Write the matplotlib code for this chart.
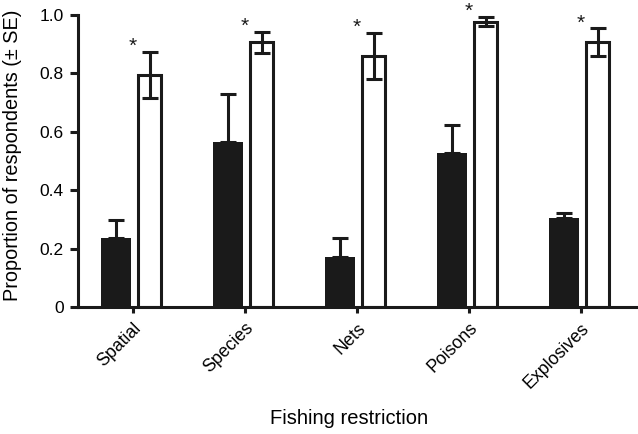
import matplotlib.pyplot as plt
import numpy as np

plt.rcParams['font.family'] = ['Liberation Sans', 'DejaVu Sans']

categories = ['Spatial', 'Species', 'Nets', 'Poisons', 'Explosives']
black_vals = [0.235, 0.564, 0.172, 0.528, 0.304]
black_se = [0.063, 0.165, 0.064, 0.095, 0.017]
white_vals = [0.795, 0.906, 0.860, 0.977, 0.906]
white_se = [0.080, 0.036, 0.078, 0.016, 0.048]
stars = ['*', '*', '*', '*', '*']

x = np.arange(len(categories))

fig = plt.figure(figsize=(6.38, 4.34), dpi=100)
ax = fig.add_axes([0.122, 0.2926, 0.878, 0.6728])

err_kw = dict(ecolor='#1a1a1a', elinewidth=2.2, capsize=6, capthick=2.2)
ax.bar(x - 0.148, black_vals, width=0.27, color='#1a1a1a',
       yerr=[np.zeros(len(x)), black_se], error_kw=err_kw, zorder=2)
ax.bar(x + 0.152, white_vals, width=0.205, color='white', edgecolor='#1a1a1a',
       linewidth=2.2, yerr=white_se, error_kw=err_kw, zorder=2)

# asterisks sit just above the upper error bar of the white bars
for xi, v, se, s in zip(x, white_vals, white_se, stars):
    ax.text(xi, v + se + 0.0, s, ha='center', va='baseline', fontsize=15,
            color='#1a1a1a', clip_on=False)

ax.set_xlim(-0.49, 4.51)
ax.set_ylim(0, 1.0)
ax.set_yticks([0, 0.2, 0.4, 0.6, 0.8, 1.0])
ax.set_yticklabels(['0', '0.2', '0.4', '0.6', '0.8', '1.0'], fontsize=12.5)
ax.set_xticks(x)
ax.set_xticklabels(categories, fontsize=12.8, rotation=45, ha='right',
                   rotation_mode='anchor')

for side in ['top', 'right']:
    ax.spines[side].set_visible(False)
for side in ['left', 'bottom']:
    ax.spines[side].set_linewidth(2.2)
    ax.spines[side].set_color('#1a1a1a')
ax.tick_params(axis='y', length=6, width=2.2, color='#1a1a1a', pad=4)
ax.tick_params(axis='x', length=4, width=2.2, color='#1a1a1a', pad=5)

fig.text(0.019, 0.643, 'Proportion of respondents (\u00b1 SE)', rotation=90,
         ha='center', va='center', fontsize=14.3)
fig.text(0.547, 0.035, 'Fishing restriction', ha='center', va='center', fontsize=14.5)

fig.savefig('out.png', dpi=100)
